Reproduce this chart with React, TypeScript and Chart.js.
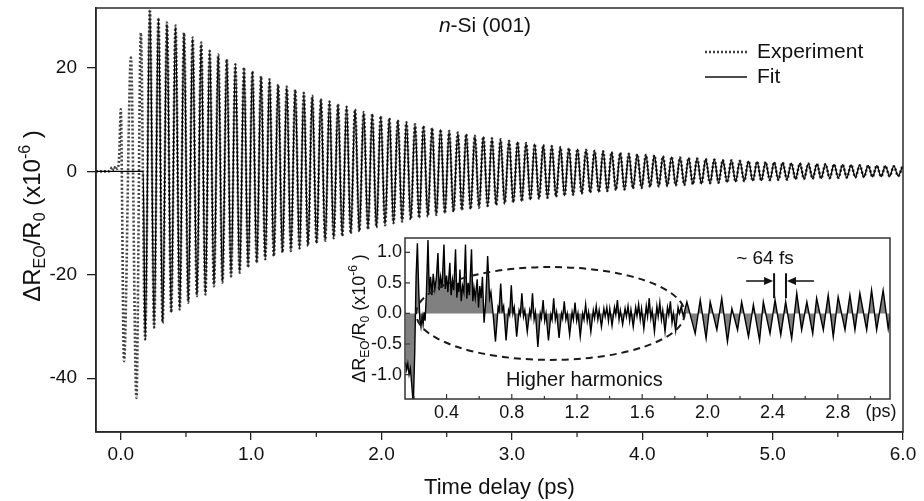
import React, { useEffect, useRef } from 'react';
import { Chart, registerables } from 'chart.js';

Chart.register(...registerables);

const FONT = "'Liberation Sans', Arial, Helvetica, sans-serif";

// ---------- main panel data (time in ps, signal in 1e-6) ----------
const onsetTimes = [-0.19, -0.09, -0.065, -0.052, -0.04, -0.028, -0.012, 0.0, 0.025, 0.078, 0.12, 0.154];
const onsetValues = [0, 0, 0.8, 0.2, 1.0, 0.5, 3.0, 12.0, -36.7, 22.0, -43.8, 26.8];

const fitStartTimes = [-0.19, 0.172];
const fitStartValues = [0, 0];

const peakTimes = [
  0.223, 0.289, 0.354, 0.42, 0.485, 0.551, 0.617, 0.682, 0.748, 0.813,
  0.879, 0.945, 1.01, 1.076, 1.141, 1.207, 1.273, 1.338, 1.404, 1.469,
  1.535, 1.601, 1.666, 1.732, 1.797, 1.863, 1.929, 1.994, 2.06, 2.125,
  2.191, 2.257, 2.322, 2.388, 2.453, 2.519, 2.585, 2.65, 2.716, 2.781,
  2.847, 2.913, 2.978, 3.044, 3.109, 3.175, 3.241, 3.306, 3.372, 3.437,
  3.503, 3.569, 3.634, 3.7, 3.765, 3.831, 3.897, 3.962, 4.028, 4.093,
  4.159, 4.225, 4.29, 4.356, 4.421, 4.487, 4.553, 4.618, 4.684, 4.749,
  4.815, 4.881, 4.946, 5.012, 5.077, 5.143, 5.209, 5.274, 5.34, 5.405,
  5.471, 5.537, 5.602, 5.668, 5.733, 5.799, 5.865, 5.93, 5.996,
];
const peakValues = [
  31.3, 29.7, 28.8, 28.2, 26.8, 25.9, 24.9, 23.3, 22.6, 21.7,
  20.7, 20.1, 19.4, 18.4, 17.8, 16.8, 16.4, 15.8, 15.2, 14.6,
  14.0, 13.5, 13.0, 12.5, 12.0, 11.5, 11.1, 10.7, 10.3, 9.9,
  9.5, 9.1, 8.8, 8.4, 8.1, 7.8, 7.5, 7.2, 6.9, 6.7,
  6.4, 6.2, 5.9, 5.7, 5.5, 5.3, 5.1, 4.9, 4.7, 4.5,
  4.3, 4.2, 4.0, 3.9, 3.7, 3.6, 3.4, 3.3, 3.2, 3.1,
  2.9, 2.8, 2.7, 2.6, 2.5, 2.4, 2.3, 2.2, 2.15, 2.05,
  2.0, 1.9, 1.8, 1.75, 1.7, 1.6, 1.55, 1.5, 1.45, 1.4,
  1.35, 1.3, 1.25, 1.2, 1.15, 1.1, 1.05, 1.0, 1.0,
];
const troughTimes = [
  0.187, 0.256, 0.321, 0.387, 0.452, 0.518, 0.584, 0.649, 0.715, 0.78,
  0.846, 0.912, 0.977, 1.043, 1.108, 1.174, 1.24, 1.305, 1.371, 1.436,
  1.502, 1.568, 1.633, 1.699, 1.764, 1.83, 1.896, 1.961, 2.027, 2.092,
  2.158, 2.224, 2.289, 2.355, 2.42, 2.486, 2.552, 2.617, 2.683, 2.748,
  2.814, 2.88, 2.945, 3.011, 3.076, 3.142, 3.208, 3.273, 3.339, 3.404,
  3.47, 3.536, 3.601, 3.667, 3.732, 3.798, 3.864, 3.929, 3.995, 4.06,
  4.126, 4.192, 4.257, 4.323, 4.388, 4.454, 4.52, 4.585, 4.651, 4.716,
  4.782, 4.848, 4.913, 4.979, 5.044, 5.11, 5.176, 5.241, 5.307, 5.372,
  5.438, 5.504, 5.569, 5.635, 5.7, 5.766, 5.832, 5.897, 5.963,
];
const troughValues = [
  -32.5, -30.2, -29.3, -27.3, -26.7, -25.4, -24.1, -23.8, -22.2, -21.5,
  -20.3, -19.6, -18.6, -17.7, -17.0, -16.4, -15.7, -15.4, -14.9, -14.4,
  -13.9, -13.4, -12.9, -12.5, -12.0, -11.6, -11.2, -10.8, -10.4, -10.0,
  -9.7, -9.3, -9.0, -8.7, -8.4, -8.1, -7.8, -7.5, -7.3, -7.0,
  -6.7, -6.5, -6.2, -6.0, -5.8, -5.5, -5.3, -5.1, -4.9, -4.7,
  -4.5, -4.3, -4.1, -4.0, -3.8, -3.6, -3.5, -3.3, -3.2, -3.0,
  -2.9, -2.8, -2.7, -2.6, -2.5, -2.4, -2.3, -2.2, -2.1, -2.0,
  -1.9, -1.85, -1.8, -1.7, -1.65, -1.6, -1.5, -1.45, -1.4, -1.35,
  -1.3, -1.25, -1.2, -1.15, -1.1, -1.05, -1.0, -0.95, -0.9,
];

const mainXTicks = [0, 1, 2, 3, 4, 5, 6];
const mainXMinorTicks = [0.5, 1.5, 2.5, 3.5, 4.5, 5.5];
const mainYTicks = [-40, -20, 0, 20];

// ---------- inset data: [time (ps), residual (1e-6)] ----------
const insetResidual: [number, number][] = [
  [0.148, -0.8], [0.155, -0.92], [0.162, -0.82], [0.17, -1.0], [0.178, -0.9],
  [0.186, -1.15], [0.196, -1.5], [0.205, -0.6], [0.213, 0.6], [0.221, 1.15],
  [0.229, 0.4], [0.236, -0.1], [0.243, -0.22], [0.25, -0.05], [0.256, -0.18],
  [0.262, 0.02], [0.268, -0.12], [0.276, 0.3], [0.286, 1.2], [0.294, 0.35],
  [0.302, 0.6], [0.31, 0.3], [0.318, 0.65], [0.328, 0.4], [0.338, 0.6],
  [0.347, 0.99], [0.355, 0.38], [0.363, 0.6], [0.372, 0.42], [0.384, 1.13],
  [0.392, 0.4], [0.4, 0.62], [0.408, 0.35], [0.42, 0.83], [0.428, 0.3],
  [0.436, 0.55], [0.444, 0.38], [0.455, 1.05], [0.463, 0.26], [0.47, 0.5],
  [0.476, 0.35], [0.482, 0.72], [0.49, 0.2], [0.498, 0.45], [0.506, 0.35],
  [0.516, 1.13], [0.524, 0.24], [0.532, 0.5], [0.54, 0.3], [0.553, 1.05],
  [0.561, 0.2], [0.568, 0.42], [0.576, 0.25], [0.588, 0.56], [0.596, 0.1],
  [0.604, 0.45], [0.612, 0.25], [0.62, 0.6], [0.63, -0.15], [0.64, 0.2],
  [0.652, 0.94], [0.664, 0.25], [0.672, 0.35], [0.685, 0.0], [0.7, -0.46],
  [0.716, 0.1], [0.722, 0.05], [0.732, 0.49], [0.742, 0.05], [0.75, 0.12],
  [0.765, -0.44], [0.78, 0.05], [0.787, -0.02], [0.797, 0.46], [0.807, 0.0],
  [0.815, 0.1], [0.83, -0.38], [0.845, 0.05], [0.852, -0.02], [0.862, 0.33],
  [0.872, -0.05], [0.88, 0.05], [0.895, -0.3], [0.91, 0.05], [0.917, -0.05],
  [0.927, 0.33], [0.937, -0.1], [0.945, 0.02], [0.96, -0.55], [0.975, 0.0],
  [0.982, -0.08], [0.992, 0.22], [1.002, -0.12], [1.01, 0.0], [1.025, -0.44],
  [1.04, -0.02], [1.047, -0.1], [1.057, 0.25], [1.067, -0.1], [1.075, 0.02],
  [1.09, -0.4], [1.105, 0.0], [1.112, -0.08], [1.122, 0.2], [1.132, -0.1],
  [1.14, 0.0], [1.155, -0.35], [1.17, 0.02], [1.178, -0.1], [1.188, 0.18],
  [1.198, -0.12], [1.206, 0.0], [1.22, -0.38], [1.235, 0.0], [1.243, -0.1],
  [1.253, 0.15], [1.263, -0.12], [1.271, 0.02], [1.285, -0.3], [1.3, 0.05],
  [1.308, -0.08], [1.318, 0.12], [1.328, -0.1], [1.336, 0.05], [1.35, -0.22],
  [1.365, 0.08], [1.373, -0.05], [1.383, 0.1], [1.393, -0.12], [1.401, 0.08],
  [1.415, -0.2], [1.43, 0.1], [1.438, -0.02], [1.448, 0.22], [1.458, -0.1],
  [1.466, 0.05], [1.48, -0.18], [1.495, 0.08], [1.503, -0.05], [1.513, 0.12],
  [1.523, -0.12], [1.531, 0.06], [1.545, -0.22], [1.56, 0.1], [1.568, -0.04],
  [1.578, 0.15], [1.588, -0.1], [1.596, 0.08], [1.61, -0.25], [1.625, 0.12],
  [1.633, -0.05], [1.643, 0.25], [1.653, -0.08], [1.661, 0.05], [1.675, -0.3],
  [1.69, 0.12], [1.698, -0.05], [1.708, 0.18], [1.718, -0.1], [1.726, 0.05],
  [1.74, -0.3], [1.755, 0.1], [1.763, -0.02], [1.773, 0.2], [1.783, -0.15],
  [1.791, 0.0], [1.805, -0.28], [1.82, 0.1], [1.828, 0.0], [1.84, 0.12],
  [1.852, -0.05], [1.874, 0.19], [1.925, -0.33], [1.956, 0.22], [1.992, -0.41],
  [2.017, 0.19], [2.058, -0.27], [2.088, 0.25], [2.123, -0.46], [2.15, 0.08],
  [2.185, -0.27], [2.21, 0.19], [2.252, -0.38], [2.282, 0.14], [2.32, -0.44],
  [2.343, 0.19], [2.384, -0.33], [2.415, 0.22], [2.45, -0.35], [2.48, 0.19],
  [2.517, -0.41], [2.548, 0.33], [2.578, -0.27], [2.61, 0.19], [2.646, -0.33],
  [2.67, 0.25], [2.711, -0.27], [2.741, 0.3], [2.772, -0.38], [2.802, 0.27],
  [2.844, -0.27], [2.874, 0.3], [2.905, -0.27], [2.935, 0.33], [2.977, -0.27],
  [3.007, 0.38], [3.038, -0.27], [3.078, 0.38], [3.109, -0.25], [3.12, -0.05],
];

const insetXTicks = [0.4, 0.8, 1.2, 1.6, 2.0, 2.4, 2.8];
const insetXMinorTicks = [0.2, 0.6, 1.0, 1.4, 1.8, 2.2, 2.6, 3.0];
const insetYTicks = [-1.0, -0.5, 0.0, 0.5, 1.0];

// annotation anchors in inset data units
const ellipseCenter = [1.037, 0.0];
const ellipseRadius = [0.824, 0.76];
const periodBars = [2.409, 2.482];

type Pt = { x: number; y: number };

function buildOscillation(leadT: number[], leadV: number[]): Pt[] {
  const pts: Pt[] = leadT.map((t, i) => ({ x: t, y: leadV[i] }));
  for (let k = 0; k < peakTimes.length; k++) {
    pts.push({ x: troughTimes[k], y: troughValues[k] });
    pts.push({ x: peakTimes[k], y: peakValues[k] });
  }
  return pts;
}

type Part = { t: string; size: number; dy?: number; italic?: boolean };

function drawRich(ctx: CanvasRenderingContext2D, parts: Part[], x: number, y: number, align: 'left' | 'center') {
  let total = 0;
  const widths: number[] = [];
  for (const p of parts) {
    ctx.font = `${p.italic ? 'italic ' : ''}${p.size}px ${FONT}`;
    const w = ctx.measureText(p.t).width;
    widths.push(w);
    total += w;
  }
  let cx = align === 'center' ? x - total / 2 : x;
  ctx.textAlign = 'left';
  ctx.textBaseline = 'alphabetic';
  parts.forEach((p, i) => {
    ctx.font = `${p.italic ? 'italic ' : ''}${p.size}px ${FONT}`;
    ctx.fillText(p.t, cx, y + (p.dy || 0));
    cx += widths[i];
  });
}

function yTitleParts(size: number): Part[] {
  const s = Math.round(size * 0.66);
  return [
    { t: '\u0394R', size },
    { t: 'EO', size: s, dy: size * 0.22 },
    { t: '/R', size },
    { t: '0', size: s, dy: size * 0.22 },
    { t: ' (x10', size },
    { t: '-6', size: s, dy: -size * 0.42 },
    { t: ' )', size },
  ];
}

const mainDecor = {
  id: 'mainDecor',
  afterDraw(chart: any) {
    const { ctx, chartArea: a, scales } = chart;
    ctx.save();
    ctx.strokeStyle = '#2a2a2a';
    ctx.lineWidth = 1.5;
    ctx.setLineDash([]);
    ctx.strokeRect(a.left, a.top, a.right - a.left, a.bottom - a.top);
    // minor ticks
    ctx.lineWidth = 1.3;
    for (const v of mainXMinorTicks) {
      const px = scales.x.getPixelForValue(v);
      ctx.beginPath();
      ctx.moveTo(px, a.bottom);
      ctx.lineTo(px, a.bottom + 5);
      ctx.stroke();
    }
    ctx.fillStyle = '#111';
    // title
    drawRich(ctx, [{ t: 'n', size: 21, italic: true }, { t: '-Si (001)', size: 21 }], 485, 32, 'center');
    // legend
    ctx.strokeStyle = '#444';
    ctx.lineWidth = 2.6;
    ctx.setLineDash([2, 2]);
    ctx.beginPath();
    ctx.moveTo(705, 52);
    ctx.lineTo(747, 52);
    ctx.stroke();
    ctx.setLineDash([]);
    ctx.strokeStyle = '#111';
    ctx.lineWidth = 1.3;
    ctx.beginPath();
    ctx.moveTo(705, 77);
    ctx.lineTo(747, 77);
    ctx.stroke();
    ctx.font = `21px ${FONT}`;
    ctx.textAlign = 'left';
    ctx.textBaseline = 'middle';
    ctx.fillText('Experiment', 757, 52);
    ctx.fillText('Fit', 757, 77);
    // x title
    ctx.font = `22px ${FONT}`;
    ctx.textAlign = 'center';
    ctx.fillText('Time delay (ps)', (a.left + a.right) / 2, 488);
    // y title
    ctx.save();
    ctx.translate(32, 216);
    ctx.rotate(-Math.PI / 2);
    drawRich(ctx, yTitleParts(24), 0, 8, 'center');
    ctx.restore();
    ctx.restore();
  },
};

const insetDecor = {
  id: 'insetDecor',
  afterDatasetsDraw(chart: any) {
    const { ctx, scales } = chart;
    const xs = scales.x;
    const ys = scales.y;
    ctx.save();
    // dashed ellipse
    const cx = xs.getPixelForValue(ellipseCenter[0]);
    const cy = ys.getPixelForValue(ellipseCenter[1]);
    const rx = xs.getPixelForValue(ellipseCenter[0] + ellipseRadius[0]) - cx;
    const ry = cy - ys.getPixelForValue(ellipseCenter[1] + ellipseRadius[1]);
    ctx.strokeStyle = '#1a1a1a';
    ctx.lineWidth = 2;
    ctx.setLineDash([7, 5]);
    ctx.beginPath();
    ctx.ellipse(cx, cy, rx, ry, 0, 0, Math.PI * 2);
    ctx.stroke();
    ctx.setLineDash([]);
    // period marker
    const b1 = xs.getPixelForValue(periodBars[0]);
    const b2 = xs.getPixelForValue(periodBars[1]);
    const yTop = ys.getPixelForValue(0.66);
    const yBot = ys.getPixelForValue(0.25);
    const yArr = ys.getPixelForValue(0.53);
    ctx.strokeStyle = '#111';
    ctx.fillStyle = '#111';
    ctx.lineWidth = 2;
    ctx.beginPath();
    ctx.moveTo(b1, yTop); ctx.lineTo(b1, yBot);
    ctx.moveTo(b2, yTop); ctx.lineTo(b2, yBot);
    ctx.stroke();
    ctx.lineWidth = 1.5;
    ctx.beginPath();
    ctx.moveTo(b1 - 28, yArr); ctx.lineTo(b1 - 6, yArr);
    ctx.moveTo(b2 + 28, yArr); ctx.lineTo(b2 + 6, yArr);
    ctx.stroke();
    ctx.beginPath();
    ctx.moveTo(b1 - 1, yArr); ctx.lineTo(b1 - 10, yArr - 4); ctx.lineTo(b1 - 10, yArr + 4); ctx.closePath();
    ctx.moveTo(b2 + 1, yArr); ctx.lineTo(b2 + 10, yArr - 4); ctx.lineTo(b2 + 10, yArr + 4); ctx.closePath();
    ctx.fill();
    ctx.font = `19px ${FONT}`;
    ctx.textAlign = 'center';
    ctx.textBaseline = 'middle';
    ctx.fillText('~ 64 fs', xs.getPixelForValue(2.353), ys.getPixelForValue(0.9));
    ctx.font = `20px ${FONT}`;
    ctx.fillText('Higher harmonics', xs.getPixelForValue(1.245), ys.getPixelForValue(-1.105));
    ctx.restore();
  },
  afterDraw(chart: any) {
    const { ctx, chartArea: a, scales } = chart;
    ctx.save();
    ctx.strokeStyle = '#333';
    ctx.lineWidth = 1.5;
    ctx.strokeRect(a.left, a.top, a.right - a.left, a.bottom - a.top);
    ctx.lineWidth = 1.2;
    ctx.beginPath();
    for (const v of insetXTicks) {
      const px = scales.x.getPixelForValue(v);
      ctx.moveTo(px, a.bottom); ctx.lineTo(px, a.bottom - 5);
    }
    for (const v of insetXMinorTicks) {
      const px = scales.x.getPixelForValue(v);
      ctx.moveTo(px, a.bottom); ctx.lineTo(px, a.bottom - 3);
    }
    for (const v of insetYTicks) {
      const py = scales.y.getPixelForValue(v);
      ctx.moveTo(a.left, py); ctx.lineTo(a.left + 5, py);
    }
    ctx.stroke();
    ctx.fillStyle = '#111';
    ctx.font = `18px ${FONT}`;
    ctx.textAlign = 'center';
    ctx.textBaseline = 'middle';
    ctx.fillText('(ps)', a.right - 9, a.bottom + 13);
    ctx.save();
    ctx.translate(a.left - 46, (a.top + a.bottom) / 2);
    ctx.rotate(-Math.PI / 2);
    drawRich(ctx, yTitleParts(18), 0, 6, 'center');
    ctx.restore();
    ctx.restore();
  },
};

const zeroScalePadding = (s: any) => {
  s.paddingTop = 0;
  s.paddingBottom = 0;
  s.paddingLeft = 0;
  s.paddingRight = 0;
};

export default function App() {
  const mainRef = useRef<HTMLCanvasElement | null>(null);
  const insetRef = useRef<HTMLCanvasElement | null>(null);

  useEffect(() => {
    if (!mainRef.current || !insetRef.current) return;
    Chart.defaults.font.family = FONT;
    Chart.defaults.color = '#111';

    const expPts = buildOscillation(onsetTimes, onsetValues);
    const fitPts = buildOscillation(fitStartTimes, fitStartValues);

    const main = new Chart(mainRef.current, {
      type: 'line',
      data: {
        datasets: [
          {
            label: 'Fit',
            data: fitPts,
            borderColor: '#000',
            borderWidth: 1.3,
            pointRadius: 0,
            cubicInterpolationMode: 'monotone',
            fill: false,
          },
          {
            label: 'Experiment',
            data: expPts,
            borderColor: '#444',
            borderWidth: 2.6,
            borderDash: [2, 2],
            pointRadius: 0,
            cubicInterpolationMode: 'monotone',
            fill: false,
          },
        ],
      },
      options: {
        animation: false,
        responsive: false,
        events: [],
        layout: { padding: { left: 0, top: 8, right: 21, bottom: 0 } },
        plugins: { legend: { display: false }, tooltip: { enabled: false }, title: { display: false } },
        scales: {
          x: {
            type: 'linear',
            min: -0.19,
            max: 6.0,
            afterBuildTicks: (s: any) => { s.ticks = mainXTicks.map((v) => ({ value: v })); },
            afterFit: (s: any) => { s.height = 69; zeroScalePadding(s); },
            grid: { display: true, drawOnChartArea: false, drawTicks: true, tickLength: 8, color: '#222', lineWidth: 1.3 },
            border: { display: true, color: '#222', width: 1.5 },
            ticks: {
              color: '#111',
              font: { size: 19, family: FONT },
              padding: 3,
              maxRotation: 0,
              autoSkip: false,
              callback: (v: any) => Number(v).toFixed(1),
            },
          },
          y: {
            type: 'linear',
            min: -50.4,
            max: 31.6,
            afterBuildTicks: (s: any) => { s.ticks = mainYTicks.map((v) => ({ value: v })); },
            afterFit: (s: any) => { s.width = 96; zeroScalePadding(s); },
            grid: { display: true, drawOnChartArea: false, drawTicks: true, tickLength: 9, color: '#222', lineWidth: 1.3 },
            border: { display: true, color: '#222', width: 1.5 },
            ticks: {
              color: '#111',
              font: { size: 19, family: FONT },
              padding: 10,
              autoSkip: false,
              callback: (v: any) => String(v),
            },
          },
        },
      },
      plugins: [mainDecor],
    } as any);

    const inset = new Chart(insetRef.current, {
      type: 'line',
      data: {
        datasets: [
          {
            label: 'Residual',
            data: insetResidual.map(([t, v]) => ({ x: t, y: v })),
            borderColor: '#000',
            borderWidth: 1.4,
            backgroundColor: '#808080',
            pointRadius: 0,
            tension: 0,
            fill: 'origin',
          },
        ],
      },
      options: {
        animation: false,
        responsive: false,
        events: [],
        layout: { padding: { left: 0, top: 8, right: 15, bottom: 0 } },
        plugins: { legend: { display: false }, tooltip: { enabled: false }, filler: { propagate: false } },
        scales: {
          x: {
            type: 'linear',
            min: 0.145,
            max: 3.12,
            afterBuildTicks: (s: any) => { s.ticks = insetXTicks.map((v) => ({ value: v })); },
            afterFit: (s: any) => { s.height = 31; zeroScalePadding(s); },
            grid: { display: false, drawTicks: false },
            border: { display: false },
            ticks: {
              color: '#111',
              font: { size: 18, family: FONT },
              padding: 3,
              maxRotation: 0,
              autoSkip: false,
              callback: (v: any) => Number(v).toFixed(1),
            },
          },
          y: {
            type: 'linear',
            min: -1.4,
            max: 1.235,
            afterBuildTicks: (s: any) => { s.ticks = insetYTicks.map((v) => ({ value: v })); },
            afterFit: (s: any) => { s.width = 75; zeroScalePadding(s); },
            grid: { display: false, drawTicks: false },
            border: { display: false },
            ticks: {
              color: '#111',
              font: { size: 18, family: FONT },
              padding: 3,
              autoSkip: false,
              callback: (v: any) => Number(v).toFixed(1),
            },
          },
        },
      },
      plugins: [insetDecor],
    } as any);

    return () => {
      main.destroy();
      inset.destroy();
    };
  }, []);

  return (
    <div style={{ position: 'fixed', left: 0, top: 0, width: 924, height: 501, background: '#fff', overflow: 'hidden' }}>
      <canvas ref={mainRef} width={924} height={501} style={{ position: 'absolute', left: 0, top: 0, display: 'block' }} />
      <canvas ref={insetRef} width={575} height={200} style={{ position: 'absolute', left: 330, top: 230, display: 'block' }} />
    </div>
  );
}
